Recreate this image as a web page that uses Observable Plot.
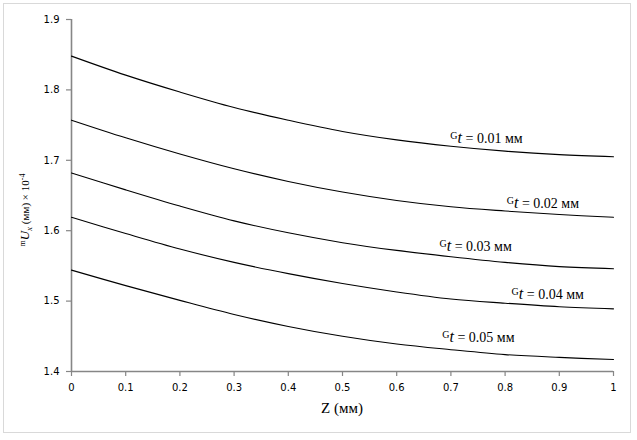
<!DOCTYPE html>
<html>
<head>
<meta charset="utf-8">
<script src="https://cdn.jsdelivr.net/npm/d3@7"></script>
<script src="https://cdn.jsdelivr.net/npm/@observablehq/plot@0.6"></script>
<style>
  html, body { margin: 0; padding: 0; background: #fff; }
  #chart { width: 637px; height: 440px; }
  .serif, .serif tspan { font-family: "Liberation Serif", serif !important; }
</style>
</head>
<body>
<div id="chart"></div>
<script>
// Z positions (мм)
const zValues = [0, 0.1, 0.2, 0.3, 0.4, 0.5, 0.6, 0.7, 0.8, 0.9, 1];
// Gt values (мм) for each curve
const gtValues = ["0.01", "0.02", "0.03", "0.04", "0.05"];
// U_x × 10^-4 for each curve
const u001 = [1.848, 1.821, 1.797, 1.775, 1.757, 1.741, 1.729, 1.720, 1.713, 1.708, 1.705];
const u002 = [1.757, 1.732, 1.709, 1.688, 1.670, 1.655, 1.643, 1.634, 1.628, 1.623, 1.619];
const u003 = [1.682, 1.658, 1.635, 1.614, 1.597, 1.583, 1.572, 1.563, 1.555, 1.549, 1.546];
const u004 = [1.619, 1.596, 1.574, 1.555, 1.539, 1.525, 1.513, 1.503, 1.497, 1.492, 1.489];
const u005 = [1.544, 1.522, 1.501, 1.481, 1.464, 1.450, 1.439, 1.431, 1.424, 1.420, 1.417];
// curve label anchors (data coordinates)
const labelZ = [0.699, 0.803, 0.679, 0.812, 0.684];
const labelU = [1.731, 1.6386, 1.5776, 1.509, 1.448];
// tick values
const xTicks = [0, 0.1, 0.2, 0.3, 0.4, 0.5, 0.6, 0.7, 0.8, 0.9, 1];
const yTicks = [1.4, 1.5, 1.6, 1.7, 1.8, 1.9];

const allSeries = [u001, u002, u003, u004, u005];
const table = [];
allSeries.forEach((s, k) => s.forEach((u, i) => table.push({z: zValues[i], u, gt: gtValues[k]})));
const labels = gtValues.map((g, k) => ({z: labelZ[k], u: labelU[k], gt: g}));

const axisColor = "#868686";
const fmt = d => String(+(+d).toFixed(1));

const plot = Plot.plot({
  width: 637,
  height: 440,
  marginLeft: 71,
  marginRight: 24,
  marginTop: 19,
  marginBottom: 69,
  style: {fontFamily: "DejaVu Sans", fontSize: "10px", color: "#000", background: "#fff"},
  x: {domain: [0, 1]},
  y: {domain: [1.4, 1.9]},
  marks: [
    Plot.axisX({ticks: xTicks, tickSize: 5, tickPadding: 7, tickFormat: fmt, label: null, stroke: axisColor, strokeWidth: 1.2, fill: "#000"}),
    Plot.axisY({ticks: yTicks, tickSize: 5, tickPadding: 7, tickFormat: fmt, label: null, stroke: axisColor, strokeWidth: 1.2, fill: "#000"}),
    Plot.ruleX([0], {stroke: axisColor, strokeWidth: 1.6}),
    Plot.ruleY([1.4], {stroke: axisColor, strokeWidth: 1.6}),
    Plot.line(table, {x: "z", y: "u", z: "gt", stroke: "#000", strokeWidth: 1.1, curve: "catmull-rom"}),
    Plot.text(labels, {x: "z", y: "u", text: "gt", textAnchor: "start", fill: "#000", ariaLabel: "curve-labels",
      fontFamily: "Liberation Serif", fontSize: 14})
  ]
});

const svg = d3.select(plot);

// rebuild curve labels with sub/superscripts
let lab = svg.selectAll('g[aria-label="curve-labels"] text');
if (lab.empty()) lab = svg.selectAll('g[aria-label="text"] text');
lab.each(function() {
  const el = d3.select(this);
  const v = this.textContent;
  el.text(null).classed("serif", true).style("font-size", "14px");
  el.append("tspan").style("font-size", "10px").attr("dy", "-4").text("G");
  el.append("tspan").style("font-style", "italic").style("font-size", "16px").attr("dy", "4").text("t");
  el.append("tspan").text(" = " + v + " мм");
});

// x axis title
svg.append("text")
  .classed("serif", true)
  .attr("x", 342).attr("y", 410)
  .attr("text-anchor", "middle").attr("dominant-baseline", "middle")
  .style("font-size", "15px").attr("fill", "#000")
  .text("Z (мм)");

// y axis title
const yt = svg.append("text")
  .classed("serif", true)
  .attr("transform", "translate(29,210) rotate(-90)")
  .attr("text-anchor", "middle")
  .style("font-size", "11px").attr("fill", "#000");
yt.append("tspan").style("font-size", "8px").attr("dy", "-4").text("m");
yt.append("tspan").style("font-style", "italic").style("font-size", "13px").attr("dy", "4").text("U");
yt.append("tspan").style("font-style", "italic").style("font-size", "9px").attr("dy", "3").text("x");
yt.append("tspan").attr("dy", "-3").text(" (мм) × 10");
yt.append("tspan").style("font-size", "8px").attr("dy", "-4").text("-4");

// outer border
svg.append("rect")
  .attr("x", 3.5).attr("y", 3.5).attr("width", 627).attr("height", 429)
  .attr("fill", "none").attr("stroke", "#d9d9d9").attr("stroke-width", 1);

document.getElementById("chart").appendChild(plot);
</script>
</body>
</html>
